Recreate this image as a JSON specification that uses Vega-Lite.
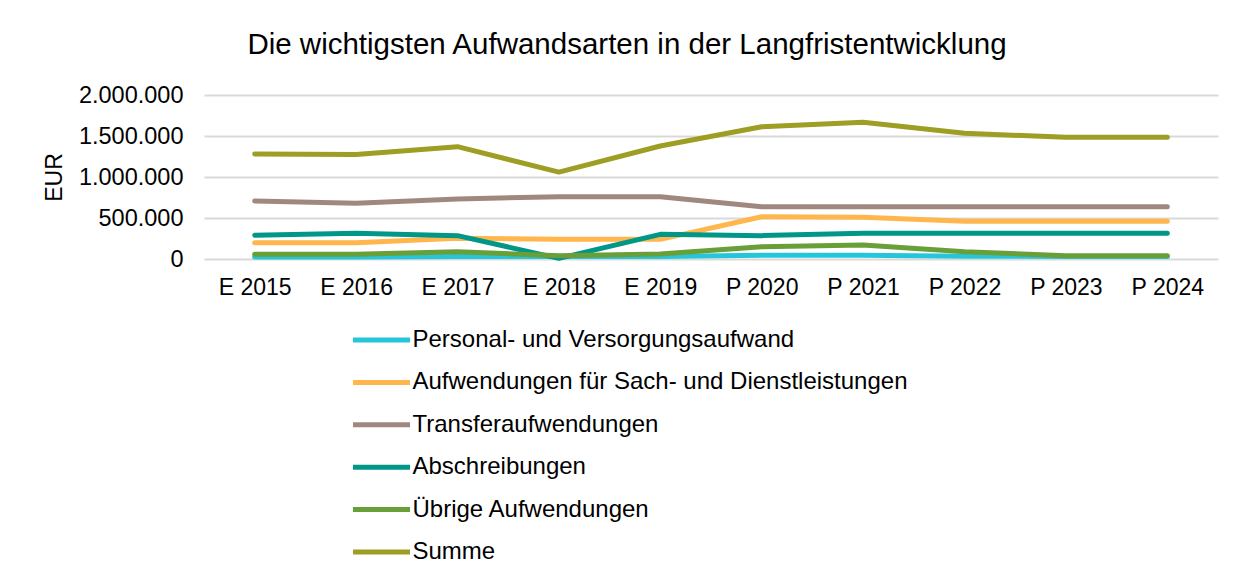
{
  "$schema": "https://vega.github.io/schema/vega-lite/v6.json",
  "autosize": {"type": "none"},
  "width": 1014,
  "height": 164,
  "padding": {"left": 204, "top": 95, "right": 27, "bottom": 320},
  "background": "white",
  "title": {
    "text": "Die wichtigsten Aufwandsarten in der Langfristentwicklung",
    "font": "Liberation Sans",
    "fontSize": 29.5,
    "fontWeight": "normal",
    "color": "#000000",
    "anchor": "middle",
    "frame": "group",
    "dx": -84,
    "baseline": "alphabetic",
    "offset": 0
  },
  "data": {
    "values": [
      {"period": "E 2015", "type": "Personal- und Versorgungsaufwand", "value": 25000},
      {"period": "E 2016", "type": "Personal- und Versorgungsaufwand", "value": 25000},
      {"period": "E 2017", "type": "Personal- und Versorgungsaufwand", "value": 30000},
      {"period": "E 2018", "type": "Personal- und Versorgungsaufwand", "value": 30000},
      {"period": "E 2019", "type": "Personal- und Versorgungsaufwand", "value": 30000},
      {"period": "P 2020", "type": "Personal- und Versorgungsaufwand", "value": 45000},
      {"period": "P 2021", "type": "Personal- und Versorgungsaufwand", "value": 45000},
      {"period": "P 2022", "type": "Personal- und Versorgungsaufwand", "value": 35000},
      {"period": "P 2023", "type": "Personal- und Versorgungsaufwand", "value": 30000},
      {"period": "P 2024", "type": "Personal- und Versorgungsaufwand", "value": 30000},
      {"period": "E 2015", "type": "Aufwendungen für Sach- und Dienstleistungen", "value": 199000},
      {"period": "E 2016", "type": "Aufwendungen für Sach- und Dienstleistungen", "value": 199000},
      {"period": "E 2017", "type": "Aufwendungen für Sach- und Dienstleistungen", "value": 252000},
      {"period": "E 2018", "type": "Aufwendungen für Sach- und Dienstleistungen", "value": 240000},
      {"period": "E 2019", "type": "Aufwendungen für Sach- und Dienstleistungen", "value": 240000},
      {"period": "P 2020", "type": "Aufwendungen für Sach- und Dienstleistungen", "value": 516000},
      {"period": "P 2021", "type": "Aufwendungen für Sach- und Dienstleistungen", "value": 508000},
      {"period": "P 2022", "type": "Aufwendungen für Sach- und Dienstleistungen", "value": 459000},
      {"period": "P 2023", "type": "Aufwendungen für Sach- und Dienstleistungen", "value": 459000},
      {"period": "P 2024", "type": "Aufwendungen für Sach- und Dienstleistungen", "value": 459000},
      {"period": "E 2015", "type": "Transferaufwendungen", "value": 707000},
      {"period": "E 2016", "type": "Transferaufwendungen", "value": 679000},
      {"period": "E 2017", "type": "Transferaufwendungen", "value": 732000},
      {"period": "E 2018", "type": "Transferaufwendungen", "value": 760000},
      {"period": "E 2019", "type": "Transferaufwendungen", "value": 760000},
      {"period": "P 2020", "type": "Transferaufwendungen", "value": 638000},
      {"period": "P 2021", "type": "Transferaufwendungen", "value": 638000},
      {"period": "P 2022", "type": "Transferaufwendungen", "value": 638000},
      {"period": "P 2023", "type": "Transferaufwendungen", "value": 638000},
      {"period": "P 2024", "type": "Transferaufwendungen", "value": 638000},
      {"period": "E 2015", "type": "Abschreibungen", "value": 289000},
      {"period": "E 2016", "type": "Abschreibungen", "value": 313000},
      {"period": "E 2017", "type": "Abschreibungen", "value": 285000},
      {"period": "E 2018", "type": "Abschreibungen", "value": 8000},
      {"period": "E 2019", "type": "Abschreibungen", "value": 301000},
      {"period": "P 2020", "type": "Abschreibungen", "value": 285000},
      {"period": "P 2021", "type": "Abschreibungen", "value": 313000},
      {"period": "P 2022", "type": "Abschreibungen", "value": 313000},
      {"period": "P 2023", "type": "Abschreibungen", "value": 313000},
      {"period": "P 2024", "type": "Abschreibungen", "value": 313000},
      {"period": "E 2015", "type": "Übrige Aufwendungen", "value": 57000},
      {"period": "E 2016", "type": "Übrige Aufwendungen", "value": 57000},
      {"period": "E 2017", "type": "Übrige Aufwendungen", "value": 89000},
      {"period": "E 2018", "type": "Übrige Aufwendungen", "value": 40000},
      {"period": "E 2019", "type": "Übrige Aufwendungen", "value": 61000},
      {"period": "P 2020", "type": "Übrige Aufwendungen", "value": 150000},
      {"period": "P 2021", "type": "Übrige Aufwendungen", "value": 171000},
      {"period": "P 2022", "type": "Übrige Aufwendungen", "value": 89000},
      {"period": "P 2023", "type": "Übrige Aufwendungen", "value": 40000},
      {"period": "P 2024", "type": "Übrige Aufwendungen", "value": 40000},
      {"period": "E 2015", "type": "Summe", "value": 1280000},
      {"period": "E 2016", "type": "Summe", "value": 1275000},
      {"period": "E 2017", "type": "Summe", "value": 1370000},
      {"period": "E 2018", "type": "Summe", "value": 1060000},
      {"period": "E 2019", "type": "Summe", "value": 1378000},
      {"period": "P 2020", "type": "Summe", "value": 1613000},
      {"period": "P 2021", "type": "Summe", "value": 1667000},
      {"period": "P 2022", "type": "Summe", "value": 1533000},
      {"period": "P 2023", "type": "Summe", "value": 1484000},
      {"period": "P 2024", "type": "Summe", "value": 1484000}
    ]
  },
  "mark": {"type": "line", "strokeWidth": 5, "strokeCap": "round", "strokeJoin": "round"},
  "encoding": {
    "x": {
      "field": "period",
      "type": "nominal",
      "sort": null,
      "axis": {
        "title": null,
        "labelAngle": 0,
        "labelFont": "Liberation Sans",
        "labelFontSize": 23,
        "labelColor": "#000000",
        "labelPadding": 17,
        "ticks": false,
        "domain": false,
        "grid": false
      }
    },
    "y": {
      "field": "value",
      "type": "quantitative",
      "scale": {"domain": [0, 2000000], "nice": false},
      "axis": {
        "title": "EUR",
        "titleFont": "Liberation Sans",
        "titleFontSize": 23,
        "titleFontWeight": "normal",
        "titleColor": "#000000",
        "titlePadding": 12,
        "values": [0, 500000, 1000000, 1500000, 2000000],
        "labelExpr": "replace(replace(format(datum.value, ','), ',', '.'), ',', '.')",
        "labelFont": "Liberation Sans",
        "labelFontSize": 23.5,
        "labelColor": "#000000",
        "labelPadding": 21,
        "ticks": false,
        "domain": false,
        "grid": true,
        "gridColor": "#d9d9d9",
        "gridWidth": 2
      }
    },
    "color": {
      "field": "type",
      "type": "nominal",
      "scale": {
        "domain": ["Personal- und Versorgungsaufwand", "Aufwendungen für Sach- und Dienstleistungen", "Transferaufwendungen", "Abschreibungen", "Übrige Aufwendungen", "Summe"],
        "range": ["#26C6DA", "#FFB74D", "#A1887F", "#009688", "#689F38", "#9E9D24"]
      },
      "legend": {
        "title": null,
        "orient": "none",
        "legendX": 146.5,
        "legendY": 224,
        "direction": "vertical",
        "symbolType": "stroke",
        "symbolSize": 3249,
        "symbolStrokeWidth": 5,
        "labelFont": "Liberation Sans",
        "labelFontSize": 24,
        "labelColor": "#000000",
        "labelOffset": 0,
        "labelLimit": 0,
        "clipHeight": 42,
        "rowPadding": 0.4
      }
    }
  },
  "config": {
    "view": {"stroke": null}
  }
}
